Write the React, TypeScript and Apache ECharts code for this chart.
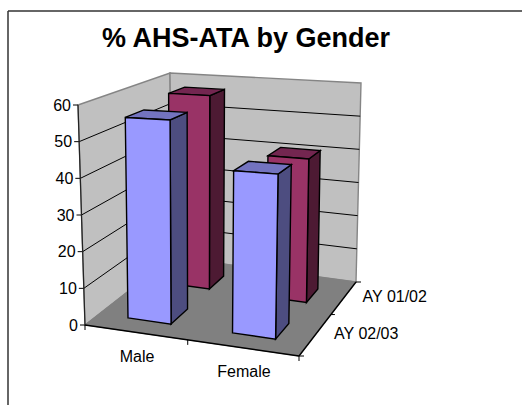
import React, { useEffect, useRef } from "react";
import * as echarts from "echarts";

const title = "% AHS-ATA by Gender";
const categories = ["Male", "Female"];
const depthLabels = ["AY 01/02", "AY 02/03"];
const ay0102 = [57.5, 41];
const ay0203 = [55.5, 43];
const yTicks = [0, 10, 20, 30, 40, 50, 60];

const FONT = '"Liberation Sans", Arial, sans-serif';
const GRID = { left: 85, top: 105, width: 214, height: 220 };
type Pt = [number, number];
const FBL: Pt = [85, 325], FBR: Pt = [299, 356], BBL: Pt = [172, 257], BBR: Pt = [356, 282];
const FTL: Pt = [78, 105], FTR: Pt = [306, 116], BTL: Pt = [170, 73], BTR: Pt = [361, 83];
// Bars taper a little less than the wall edges do.
const FTLb: Pt = [80, 105], FTRb: Pt = [304, 116], BTLb: Pt = [172, 73], BTRb: Pt = [360, 83];
const lerp = (a: Pt, b: Pt, t: number): Pt => [a[0] + (b[0] - a[0]) * t, a[1] + (b[1] - a[1]) * t];
const P = (u: number, v: number, w: number): Pt => {
  const bottom = lerp(lerp(FBL, FBR, u), lerp(BBL, BBR, u), w);
  const top = lerp(lerp(FTL, FTR, u), lerp(BTL, BTR, u), w);
  return lerp(bottom, top, v);
};
const B = (u: number, v: number, w: number): Pt => {
  const bottom = lerp(lerp(FBL, FBR, u), lerp(BBL, BBR, u), w);
  const top = lerp(lerp(FTLb, FTRb, u), lerp(BTLb, BTRb, u), w);
  return lerp(bottom, top, v);
};
const toUV = (c: number[]) => [(c[0] - GRID.left) / GRID.width, (GRID.top + GRID.height - c[1]) / GRID.height];
const poly = (points: Pt[], fill: string, stroke = "#000", lineWidth = 1.4) => ({
  type: "polygon",
  shape: { points },
  style: { fill, stroke, lineWidth, lineJoin: "miter" },
});
const line = (a: Pt, b: Pt, stroke = "#000", lineWidth = 1) => ({
  type: "line",
  shape: { x1: a[0], y1: a[1], x2: b[0], y2: b[1] },
  style: { stroke, lineWidth },
});
const label = (text: string, x: number, y: number, align = "center") => ({
  type: "text",
  style: { text, x, y, fill: "#000", font: `16px ${FONT}`, align, verticalAlign: "middle" },
});

const bars = (w0: number, w1: number, front: string, side: string, top: string) => (_: any, api: any) => {
  const [uc, v] = toUV(api.coord([api.value(0), api.value(1)]));
  const u0 = uc - 0.01 - 0.103, u1 = uc - 0.01 + 0.103;
  return {
    type: "group",
    children: [
      poly([B(u1, 0, w0), B(u1, 0, w1), B(u1, v, w1), B(u1, v, w0)], side),
      poly([B(u0, v, w0), B(u1, v, w0), B(u1, v, w1), B(u0, v, w1)], top),
      poly([B(u0, 0, w0), B(u1, 0, w0), B(u1, v, w0), B(u0, v, w0)], front),
    ],
  };
};

const custom = (name: string, data: any[], renderItem: any) => ({
  type: "custom",
  name,
  coordinateSystem: "cartesian2d",
  clip: false,
  silent: true,
  encode: { x: 0, y: 1 },
  data,
  renderItem,
});

const GRAY = "#858585";

export default function App() {
  const ref = useRef<HTMLDivElement>(null);
  useEffect(() => {
    const chart = echarts.init(ref.current!, undefined, { renderer: "svg" });
    chart.setOption({
      animation: false,
      backgroundColor: "#fff",
      title: {
        text: title,
        left: 241,
        top: 19,
        textAlign: "center",
        textStyle: { fontFamily: FONT, fontSize: 27, fontWeight: "bold", color: "#000" },
      },
      graphic: [
        { type: "line", shape: { x1: 8, y1: 11, x2: 522, y2: 11 }, style: { stroke: "#333", lineWidth: 1.5 } },
        { type: "line", shape: { x1: 8, y1: 11, x2: 8, y2: 405 }, style: { stroke: "#333", lineWidth: 1.5 } },
      ],
      grid: { ...GRID },
      xAxis: { type: "category", data: categories, show: false },
      yAxis: { type: "value", min: 0, max: 60, interval: 10, show: false },
      series: [
        custom("walls", [[0, 0]], () => ({
          type: "group",
          children: [
            poly([FTL, BTL, BBL, FBL], "#C0C0C0", GRAY, 1.4),
            poly([BTL, BTR, BBR, BBL], "#C0C0C0", GRAY, 1.4),
            poly([FBL, BBL, BBR, FBR], "#808080", "#808080", 1),
          ],
        })),
        custom(
          "value axis",
          yTicks.map((t) => [0, t]),
          (_: any, api: any) => {
            const t = api.value(1);
            const [, v] = toUV(api.coord([0, t]));
            const a = P(0, v, 0);
            const children: any[] = [
              line([a[0] - 5, a[1]], a),
              label(String(t), a[0] - 7, a[1], "right"),
            ];
            if (t > 0 && t < 60) {
              children.push(line(a, P(0, v, 1)), line(P(0, v, 1), P(1, v, 1)));
            }
            return { type: "group", children };
          },
        ),
        custom("axes", [[0, 0]], () => ({
          type: "group",
          children: [
            line(FBL, FTL, "#222", 1.2),
            line(FBL, FBR, "#000", 1.4),
            line(FBR, BBR, "#000", 1.4),
            line(FBL, [FBL[0], FBL[1] + 5]),
            line(P(0.48, 0, 0), [P(0.48, 0, 0)[0], P(0.48, 0, 0)[1] + 5]),
            line(FBR, [FBR[0], FBR[1] + 5]),
            line(FBR, [FBR[0] + 5, FBR[1]]),
            line(P(1, 0, 0.56), [P(1, 0, 0.56)[0] + 4, P(1, 0, 0.56)[1]]),
            line(BBR, [BBR[0] + 5, BBR[1]]),
          ],
        })),
        custom(
          "category labels",
          categories.map((_, i) => [i, 0]),
          (_: any, api: any) => {
            const [u] = toUV(api.coord([api.value(0), 0]));
            const p = P(u, 0, 0);
            return label(categories[api.value(0)], p[0] - 1.5, p[1] + 23.5);
          },
        ),
        custom(
          "depth labels",
          depthLabels.map((_, i) => [i, 0]),
          (_: any, api: any) => {
            const i = api.value(0);
            const p = P(1, 0, i === 0 ? 0.75 : 0.25);
            return label(depthLabels[i], p[0] + 53, p[1] - 4);
          },
        ),
        custom(depthLabels[0], ay0102.map((v, i) => [i, v]), bars(0.665, 0.85, "#993366", "#4D1A33", "#732650")),
        custom(depthLabels[1], ay0203.map((v, i) => [i, v]), bars(0.165, 0.38, "#9999FF", "#4D4D80", "#7373BF")),
      ],
    });
    return () => chart.dispose();
  }, []);
  return <div ref={ref} style={{ position: "fixed", left: 0, top: 0, width: 522, height: 405 }} />;
}
